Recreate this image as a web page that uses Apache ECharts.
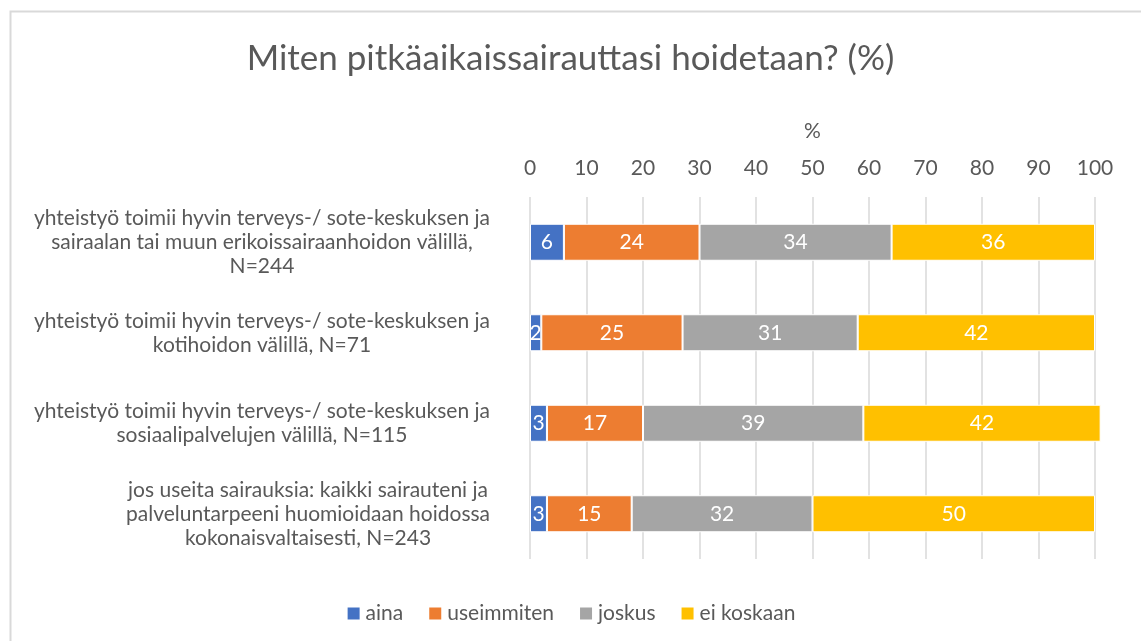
<!DOCTYPE html>
<html>
<head>
<meta charset="utf-8">
<script src="https://cdn.jsdelivr.net/npm/echarts@6/dist/echarts.min.js"></script>
<style>
html,body{margin:0;padding:0;background:#fff;}
#chart{width:1141px;height:641px;}
</style>
</head>
<body>
<div id="chart"></div>
<script>
const categories = [
  "yhteistyö toimii hyvin terveys-/ sote-keskuksen ja\nsairaalan tai muun erikoissairaanhoidon välillä,\nN=244",
  "yhteistyö toimii hyvin terveys-/ sote-keskuksen ja\nkotihoidon välillä, N=71",
  "yhteistyö toimii hyvin terveys-/ sote-keskuksen ja\nsosiaalipalvelujen välillä, N=115",
  "jos useita sairauksia: kaikki sairauteni ja\npalveluntarpeeni huomioidaan hoidossa\nkokonaisvaltaisesti, N=243"
];
const seriesNames = ["aina", "useimmiten", "joskus", "ei koskaan"];
const aina = [6, 2, 3, 3];
const useimmiten = [24, 25, 17, 15];
const joskus = [34, 31, 39, 32];
const eiKoskaan = [36, 42, 42, 50];
const xTicks = [0, 10, 20, 30, 40, 50, 60, 70, 80, 90, 100];
const colors = ["#4472C4", "#ED7D31", "#A5A5A5", "#FFC000"];

const values = [aina, useimmiten, joskus, eiKoskaan];
const font = "Lato";
const textColor = "#595959";

const chart = echarts.init(document.getElementById('chart'));
const option = {
  backgroundColor: '#fff',
  animation: false,
  graphic: [{
    type: 'rect', left: 8, top: 9,
    shape: { width: 1160, height: 660 },
    style: { fill: 'none', stroke: '#d9d9d9', lineWidth: 2 }
  }],
  title: {
    text: "Miten pitkäaikaissairauttasi hoidetaan? (%)",
    left: 'center', top: 36,
    textStyle: { fontFamily: font, fontSize: 35, fontWeight: 'normal', color: textColor }
  },
  legend: {
    data: seriesNames,
    bottom: 12, left: 'center',
    icon: 'rect', itemWidth: 14, itemHeight: 14, itemGap: 24,
    textStyle: { fontFamily: font, fontSize: 21, color: textColor }
  },
  grid: { left: 530, right: 46, top: 197, bottom: 82, containLabel: false },
  xAxis: {
    type: 'value', position: 'top', min: xTicks[0], max: xTicks[xTicks.length - 1], interval: 10,
    name: '%', nameLocation: 'middle', nameGap: 55,
    nameTextStyle: { fontFamily: font, fontSize: 21, color: textColor },
    axisLine: { show: false }, axisTick: { show: false },
    axisLabel: { fontFamily: font, fontSize: 21, color: textColor, margin: 18 },
    splitLine: { show: true, lineStyle: { color: '#d9d9d9', width: 1.5 } }
  },
  yAxis: {
    type: 'category', inverse: true, data: categories,
    axisLine: { show: false }, axisTick: { show: false },
    axisLabel: {
      align: 'right', margin: 40,
      fontFamily: font, fontSize: 21, color: textColor, lineHeight: 24,
      formatter: function (v) {
        return v.split('\n').map(l => '{c|' + l + '}').join('\n');
      },
      rich: { c: { align: 'center', fontFamily: font, fontSize: 21, color: textColor, lineHeight: 24 } }
    }
  },
  series: seriesNames.map((n, i) => ({
    name: n, type: 'bar', stack: 'total', barWidth: 37, clip: false,
    data: values[i],
    itemStyle: { color: colors[i], borderColor: '#fff', borderWidth: 1 },
    label: { show: true, position: 'inside', color: '#fff', fontFamily: font, fontSize: 21 }
  }))
};
chart.setOption(option);
</script>
</body>
</html>
